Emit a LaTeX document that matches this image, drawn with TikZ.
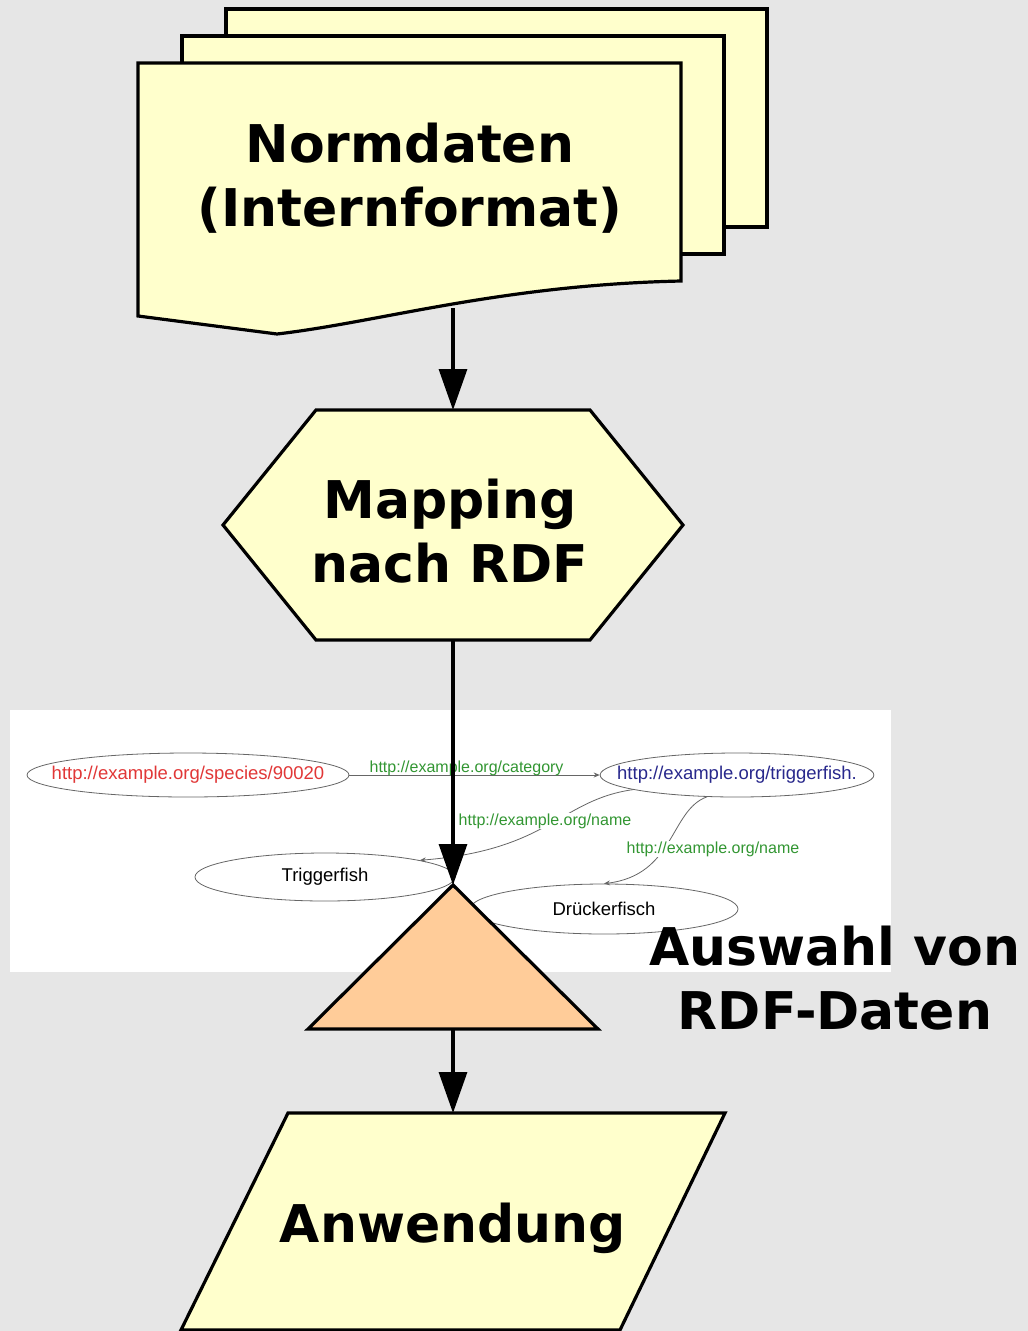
\documentclass[tikz,border=0pt]{standalone}
\usepackage{fontspec}
\setmainfont{DejaVu Sans}
\newfontfamily\rdffont{Liberation Sans}
\usetikzlibrary{arrows.meta,shapes.geometric}
\definecolor{bggray}{RGB}{230,230,230}
\definecolor{docyellow}{RGB}{255,255,204}
\definecolor{mergeorange}{RGB}{255,204,153}
\definecolor{rdfred}{RGB}{225,55,55}
\definecolor{rdfblue}{RGB}{40,40,140}
\definecolor{rdfgreen}{RGB}{50,150,50}
\tikzset{
  box/.style={draw=black,line width=3.2pt,line join=miter},
  flow/.style={line width=3.2pt,-{Triangle[length=41pt,width=28pt]}},
  big/.style={font=\fontsize{52}{64}\selectfont\bfseries,align=center},
  res/.style={ellipse,draw=black!60,line width=0.8pt,inner xsep=-23pt,inner ysep=0pt,font=\rdffont\fontsize{18.5}{20}\selectfont},
  pred/.style={font=\rdffont\fontsize{16}{18}\selectfont,text=rdfgreen,inner sep=1pt},
  rel/.style={draw=black!60,line width=0.8pt,-{Stealth[length=6pt,width=5pt]}}
}
\begin{document}
\begin{tikzpicture}[x=1pt,y=-1pt]
      \useasboundingbox (0,0) rectangle (1028,1331);
      \fill[bggray] (0,0) rectangle (1028,1331);
      \draw[box,fill=docyellow] (226,9) rectangle (767,227);
      \draw[box,fill=docyellow] (182,36) rectangle (724,254);
      \draw[box,fill=docyellow] (138,63) -- (681,63) -- (681,281) .. controls (500,285) and (380,322) .. (277,334) -- (138,316) -- cycle;
      \node[big] (norm) at (410,178) {Normdaten\\(Internformat)};
      \coordinate (norm-s) at (453,308);
      \draw[box,fill=docyellow] (223,525) -- (316,410) -- (590,410) -- (683,525) -- (590,640) -- (316,640) -- cycle;
      \node[big] (map) at (450,531) {Mapping\\nach RDF};
      \coordinate (map-n) at (453,410);
      \coordinate (map-s) at (453,640);
      \fill[white] (10,710) rectangle (891,972);
      \node[res,minimum width=322pt,minimum height=44pt,text=rdfred] (species) at (188,775) {http://example.org/species/90020};
      \node[res,minimum width=270pt,minimum height=44pt,text=rdfblue] (fishuri) at (737,775) {http://example.org/triggerfish.};
      \node[res,minimum width=260pt,minimum height=48pt] (tfish) at (325,877) {Triggerfish};
      \node[res,minimum width=268pt,minimum height=50pt] (dfish) at (604,909) {Drückerfisch};
      \draw[rel] (species) -- (fishuri) node[pred,midway,yshift=7pt,xshift=-8pt] {http://example.org/category};
      \draw[rel] (fishuri.188) .. controls (560,800) and (550,850) .. (tfish.10);
      \node[pred,fill=white] (name1) at (545,821) {http://example.org/name};
      \draw[rel] (fishuri.216) .. controls (670,810) and (675,875) .. (dfish.north);
      \node[pred,fill=white] (name2) at (713,849) {http://example.org/name};
      \draw[box,fill=mergeorange] (453,885) -- (598,1029) -- (308,1029) -- cycle;
      \coordinate (sel-n) at (453,885);
      \coordinate (sel-s) at (453,1029);
      \node[big] (sel) at (835,978) {Auswahl von\\RDF-Daten};
      \draw[box,fill=docyellow] (288,1113) -- (725,1113) -- (620,1330) -- (181,1330) -- cycle;
      \coordinate (app-n) at (453,1113);
      \node[big] (app) at (453,1228) {Anwendung};
      \draw[flow] (norm-s) -- (map-n);
      \draw[flow] (map-s) -- (sel-n);
      \draw[flow] (sel-s) -- (app-n);
    \end{tikzpicture}
\end{document}
